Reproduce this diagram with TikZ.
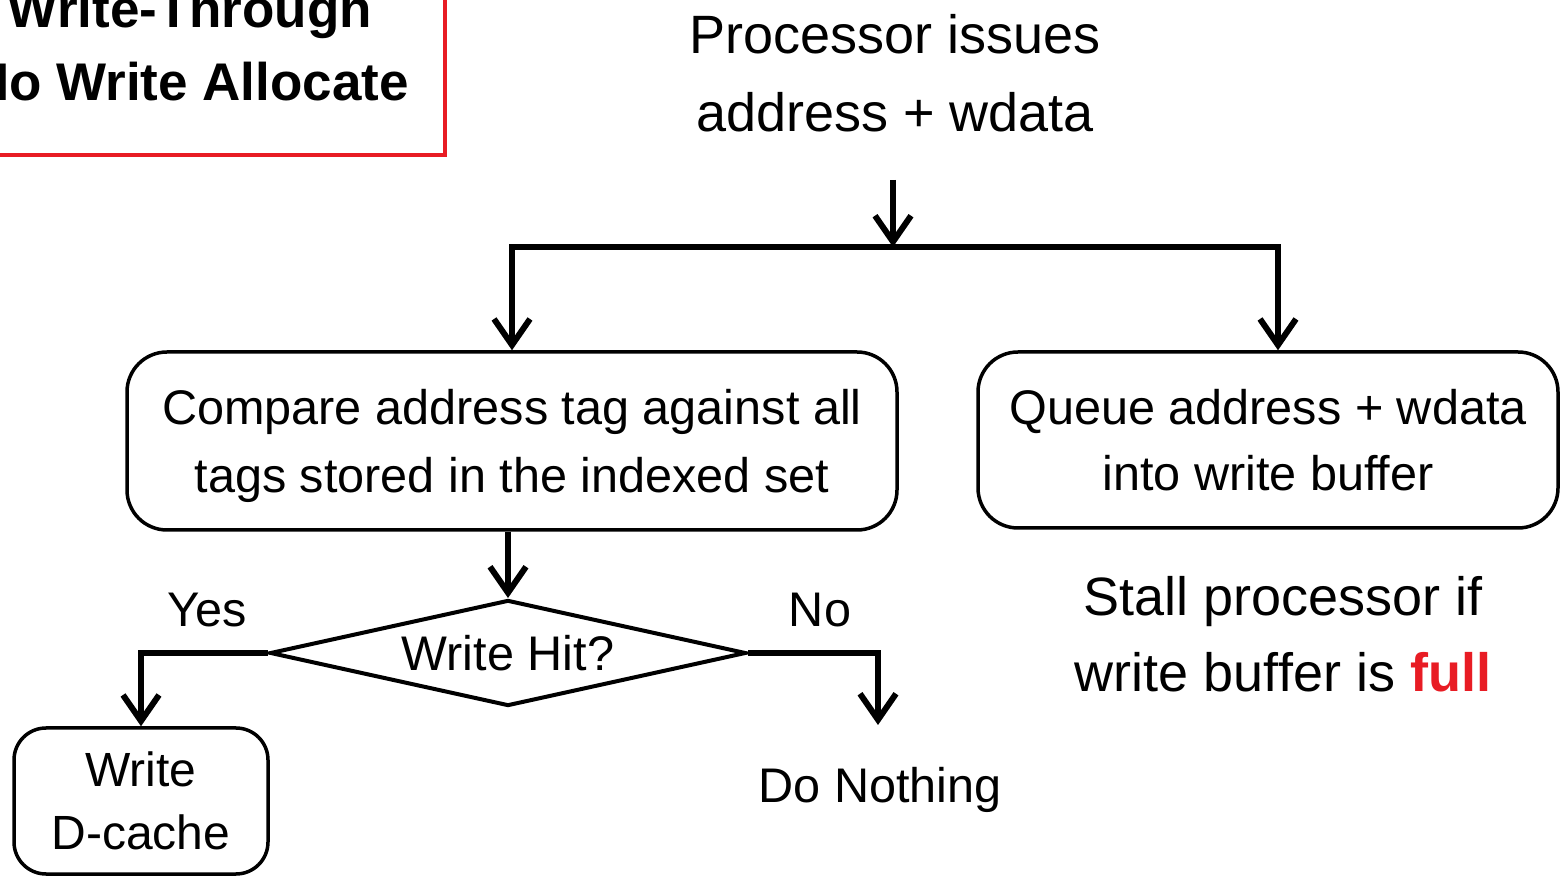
\documentclass[tikz,border=0pt]{standalone}
\usepackage{fontspec}
\setmainfont{Liberation Sans}
\usetikzlibrary{shapes.geometric}
\usetikzlibrary{arrows.meta}
\definecolor{hotred}{RGB}{232,28,36}
\tikzstyle{box}=[draw, line width=1.75pt, rounded corners=20pt, align=center, inner sep=0pt]
\tikzstyle{bigbox}=[box, minimum width=385pt, minimum height=89pt]
\tikzstyle{qbox}=[box, minimum width=290pt, minimum height=88pt]
\tikzstyle{sbox}=[box, minimum width=127pt, minimum height=73pt, rounded corners=16pt]
\tikzstyle{decision}=[draw, diamond, shape aspect=4.5, line width=2pt, inner sep=0pt, minimum width=238pt, minimum height=53pt]
\tikzstyle{plain}=[align=center, inner sep=0pt]
\tikzstyle{wire}=[line width=3pt]
\tikzstyle{flow}=[wire, -{Straight Barb[length=13pt, width=18pt]}]

\begin{document}
\begin{tikzpicture}[x=0.5pt, y=-0.5pt, font=\fontsize{24.3}{33}\selectfont]
        \useasboundingbox (0, 0) rectangle (1564, 876);
        % heading
        \draw[hotred, line width=2pt] (-80, -80) rectangle (445, 155);
        \node[plain, font=\fontsize{26.5}{36.5}\selectfont\bfseries] (title) at (190, 45) {Write-Through\\No Write Allocate};
        \node[plain, font=\fontsize{27}{39}\selectfont] (issue) at (895, 73) {Processor issues\\address + wdata};
        % boxes
        \node[bigbox, font=\fontsize{24.3}{34}\selectfont, text depth=0pt] (compare) at (512, 441) {Compare address tag against all\\tags stored in the indexed set};
        \node[qbox]    (queue) at (1268, 440) {Queue address + wdata\\into write buffer};
        \node[decision] (hit) at (508, 653) {Write Hit?};
        \node[sbox, font=\fontsize{24}{31.5}\selectfont] (dcache) at (141, 801) {Write\\D-cache};
        \node[plain, anchor=base] (yes) at (207, 627) {Yes};
        \node[plain, anchor=base] (no) at (820, 627) {No};
        \node[plain, anchor=base] (nothing) at (880, 802) {Do Nothing};
        \node[plain, font=\fontsize{27}{38}\selectfont] (stall) at (1283, 634) {Stall processor if\\write buffer is \textcolor{hotred}{\textbf{full}}};
        % connectors
        \coordinate (start) at (893, 180);
        \coordinate (fork) at (893, 247);
        \coordinate (qtop) at ([xshift=5pt]queue.north);
        \coordinate (noend) at (878, 725);
        \draw[flow] (start) -- (fork);
        \draw[flow] (fork) -| (compare.north);
        \draw[flow] (fork) -| (qtop);
        \draw[flow] (hit.north |- compare.south) -- (hit.north);
        \draw[flow] (hit.west) -| (dcache.north);
        \draw[flow] (hit.east) -| (noend);
    \end{tikzpicture}
\end{document}
